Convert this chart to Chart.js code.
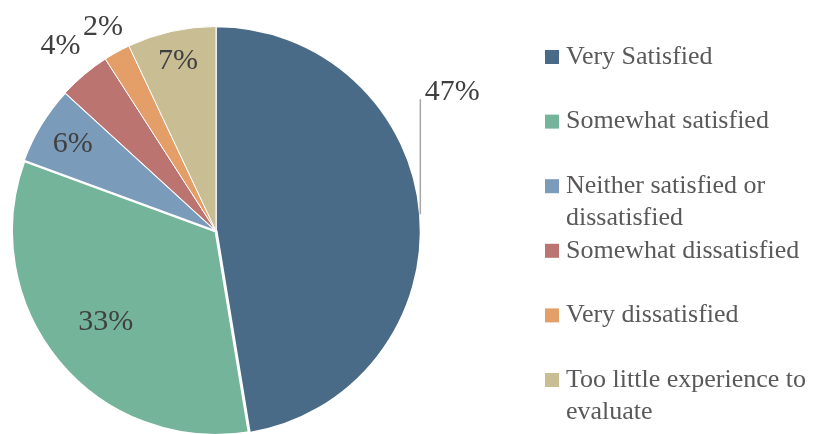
<!DOCTYPE html>
<html>
<head>
<meta charset="utf-8">
<script src="https://cdn.jsdelivr.net/npm/chart.js@4.4.0/dist/chart.umd.min.js"></script>
<style>
  html, body { margin: 0; padding: 0; background: #fff; overflow: hidden; }
  #wrap { width: 823px; height: 440px; }
</style>
</head>
<body>
<div id="wrap"><canvas id="pie-chart" width="823" height="440"></canvas></div>
<script>
// survey answers, share of respondents (%)
var categories = ["Very Satisfied", "Somewhat satisfied", "Neither satisfied or dissatisfied",
  "Somewhat dissatisfied", "Very dissatisfied", "Too little experience to evaluate"];
var shares = [47.4, 33.2, 6.2, 4.1, 2.1, 7.0];
var shareLabels = ["47%", "33%", "6%", "4%", "2%", "7%"];
var colors = ["#4A6B88", "#74B49A", "#7B9BBB", "#BC7470", "#E39F67", "#C9BD94"];

// where each % label sits, as a fraction of the radius (0 = leader line)
var labelRadius = [0, 0.70, 0.82, 1.18, 1.14, 0.85];

var serif = "'Liberation Serif', 'DejaVu Serif', serif";

var pieLabels = {
  id: 'pieLabels',
  afterDatasetsDraw: function(chart) {
    var ctx = chart.ctx;
    var arcs = chart.getDatasetMeta(0).data;
    ctx.save();
    ctx.font = "30px " + serif;
    ctx.fillStyle = "#404040";
    ctx.textAlign = "center";
    ctx.textBaseline = "middle";
    arcs.forEach(function(arc, i) {
      var p = arc.getProps(['x', 'y', 'startAngle', 'endAngle', 'outerRadius'], true);
      var mid = (p.startAngle + p.endAngle) / 2;
      if (labelRadius[i] === 0) {
        // label out to the side, with a vertical leader line
        var ax = p.x + Math.cos(mid) * p.outerRadius;
        var ay = p.y + Math.sin(mid) * p.outerRadius;
        var topY = p.y - p.outerRadius * 0.645;
        ctx.strokeStyle = "#A6A6A6";
        ctx.lineWidth = 1.5;
        ctx.beginPath();
        ctx.moveTo(ax + 0.5, ay);
        ctx.lineTo(ax + 0.5, topY);
        ctx.stroke();
        ctx.textAlign = "left";
        ctx.textBaseline = "alphabetic";
        ctx.fillText(shareLabels[i], ax + 5, topY + 1);
        ctx.textAlign = "center";
        ctx.textBaseline = "middle";
      } else {
        var r = p.outerRadius * labelRadius[i];
        ctx.fillText(shareLabels[i], p.x + Math.cos(mid) * r, p.y + Math.sin(mid) * r);
      }
    });
    ctx.restore();
  },
  afterDraw: function(chart) {
    // legend on the right, wrapped text
    var ctx = chart.ctx;
    var x0 = 545, textX = 566, maxW = 254;
    var firstY = 57, step = 64.6, lineH = 32;
    ctx.save();
    ctx.font = "26px " + serif;
    ctx.textBaseline = "middle";
    categories.forEach(function(name, i) {
      var y = firstY + i * step;
      ctx.fillStyle = colors[i];
      ctx.fillRect(x0, y - 7, 14, 14);
      var words = name.split(" "), lines = [], cur = "";
      words.forEach(function(w) {
        var t = cur ? cur + " " + w : w;
        if (ctx.measureText(t).width > maxW && cur) { lines.push(cur); cur = w; } else { cur = t; }
      });
      lines.push(cur);
      ctx.fillStyle = "#595959";
      lines.forEach(function(l, j) { ctx.fillText(l, textX, y + j * lineH); });
    });
    ctx.restore();
  }
};

new Chart(document.getElementById("pie-chart"), {
  type: 'pie',
  data: {
    labels: categories,
    datasets: [{
      data: shares,
      backgroundColor: colors,
      borderColor: "#ffffff",
      borderWidth: [1.5, 3, 1.5, 1, 1, 1]
    }]
  },
  options: {
    responsive: false,
    animation: false,
    devicePixelRatio: 1,
    layout: { padding: { left: 10, top: 25, right: 401, bottom: 3 } },
    plugins: {
      legend: { display: false },
      tooltip: { enabled: false },
      title: { display: false }
    }
  },
  plugins: [pieLabels]
});
</script>
</body>
</html>
